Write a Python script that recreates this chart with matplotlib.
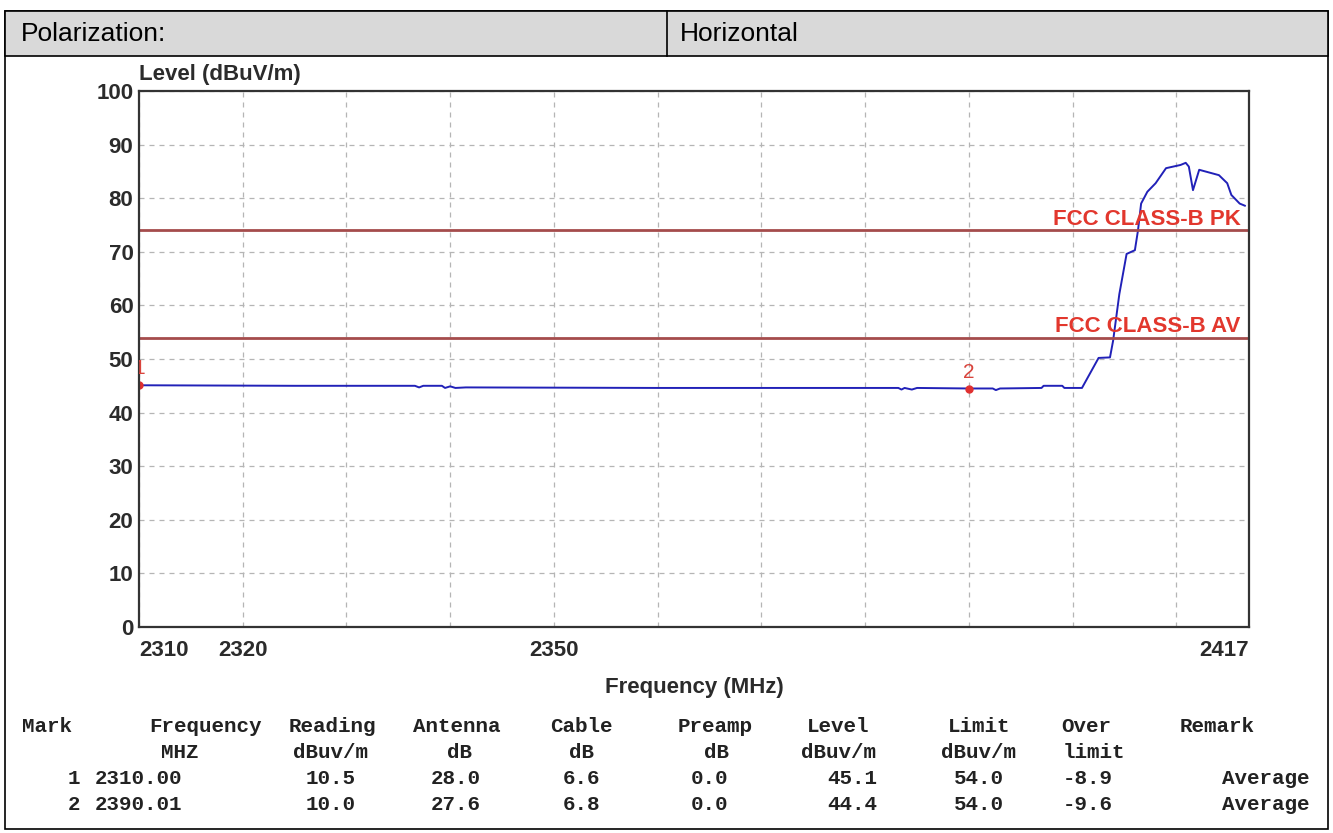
import matplotlib.pyplot as plt
from matplotlib.patches import Rectangle
from matplotlib.lines import Line2D

# trace (MHz, dBuV/m)
freq = [2310.0, 2325.0, 2336.6, 2337.0, 2337.4, 2339.2, 2339.5, 2340.0, 2340.5,
        2341.5, 2360.0, 2383.2, 2383.5, 2383.8, 2384.5, 2385.0, 2390.01, 2392.3,
        2392.6, 2393.0, 2397.0, 2397.2, 2399.0, 2399.2, 2400.9, 2402.5, 2403.6,
        2403.9, 2404.5, 2405.2, 2406.0, 2406.3, 2406.6, 2407.2, 2408.0, 2409.0,
        2410.4, 2410.9, 2411.2, 2411.6, 2412.2, 2414.1, 2414.9, 2415.3, 2416.1,
        2416.6]
level = [45.1, 45.0, 45.0, 44.7, 45.0, 45.0, 44.6, 44.9, 44.6,
         44.7, 44.6, 44.6, 44.3, 44.6, 44.3, 44.6, 44.5, 44.5,
         44.2, 44.5, 44.6, 45.0, 45.0, 44.6, 44.6, 50.2, 50.3,
         53.4, 62.1, 69.6, 70.3, 74.0, 79.0, 81.2, 82.8, 85.6,
         86.2, 86.6, 85.9, 81.5, 85.3, 84.3, 82.8, 80.6, 79.0,
         78.6]

limit_pk = 74.0
limit_av = 54.0
limit_names = ['FCC CLASS-B PK', 'FCC CLASS-B AV']

y_ticks = list(range(0, 101, 10))
x_grid = list(range(2310, 2420, 10))
x_labels = [2310, 2320, 2350, 2417]

# marker table
mark_no = ['1', '2']
mark_freq = [2310.00, 2390.01]
reading = [10.5, 10.0]
antenna = [28.0, 27.6]
cable = [6.6, 6.8]
preamp = [0.0, 0.0]
mark_level = [45.1, 44.4]
limit = [54.0, 54.0]
over = [-8.9, -9.6]
remark = ['Average', 'Average']

W, H = 1333, 833


def px(x, y):
    return x / W, 1 - y / H


fig = plt.figure(figsize=(W / 100, H / 100), dpi=100)

# frame + header row
fig.add_artist(Rectangle(px(5, 829), 1323 / W, 818 / H, transform=fig.transFigure,
                         fill=False, ec='black', lw=1.2))
fig.add_artist(Rectangle(px(5, 56), 1323 / W, 45 / H, transform=fig.transFigure,
                         fc='#d9d9d9', ec='black', lw=1.2))
fig.add_artist(Line2D([667 / W, 667 / W], [1 - 11 / H, 1 - 56 / H],
                      transform=fig.transFigure, color='black', lw=1.2))
fig.text(*px(21, 34), 'Polarization:', fontsize=19, family='Liberation Sans', va='center')
fig.text(*px(680, 34), 'Horizontal', fontsize=19, family='Liberation Sans', va='center')

# plot
l, r, t, b = 139, 1249, 91, 627
ax = fig.add_axes([l / W, 1 - b / H, (r - l) / W, (b - t) / H])
ax.plot(freq, level, color='#2121b8', lw=1.4)
ax.axhline(limit_pk, color='#a54c4c', lw=2)
ax.axhline(limit_av, color='#a54c4c', lw=2)
for y, name in zip([limit_pk, limit_av], limit_names):
    ax.text(2416.2, y + 1.0, name, ha='right', va='baseline', color='#e2372d',
            fontsize=16, fontweight='bold', family='Liberation Sans')

ax.plot(mark_freq, mark_level, 'o', color='#e03030', ms=5, clip_on=True)
for f, lv, n in zip(mark_freq, mark_level, mark_no):
    ax.text(f, lv + 1.3, n, ha='center', va='bottom', color='#d9443c',
            fontsize=15, family='Liberation Sans', clip_on=True)

ax.set_xlim(2310, 2417)
ax.set_ylim(0, 100)
ax.set_yticks(y_ticks)
ax.set_xticks(x_grid + [2417])
ax.set_xticklabels([str(v) if v in x_labels else '' for v in x_grid + [2417]])
ax.grid(True, color='#b5b5b5', ls=(0, (4, 4)), lw=0.9)
ax.tick_params(length=0, labelsize=16, labelcolor='#2b2b2b')
ax.tick_params(axis='x', pad=9)
ax.tick_params(axis='y', pad=4)
for lab in ax.get_xticklabels() + ax.get_yticklabels():
    lab.set_fontweight('bold')
    lab.set_family('Liberation Sans')
xl = ax.get_xticklabels()
xl[0].set_ha('left')
xl[-1].set_ha('right')
for sp in ax.spines.values():
    sp.set_color('#333333')
    sp.set_linewidth(1.6)

ax.text(0, 1.012, 'Level (dBuV/m)', transform=ax.transAxes, ha='left', va='bottom',
        fontsize=16, fontweight='bold', color='#2b2b2b', family='Liberation Sans')
ax.set_xlabel('Frequency (MHz)', fontsize=16, fontweight='bold', color='#2b2b2b',
              family='Liberation Sans', labelpad=12)

# marker table
mono = dict(fontsize=15, family='Liberation Mono', fontweight='bold', color='#222222',
            va='center')
head1 = ['Mark', 'Frequency', 'Reading', 'Antenna', 'Cable', 'Preamp', 'Level',
         'Limit', 'Over', 'Remark']
head1_pos = [(22, 'left'), (262, 'right'), (332, 'center'), (457, 'center'),
             (581, 'center'), (715, 'center'), (838, 'center'), (979, 'center'),
             (1086, 'center'), (1217, 'center')]
head2 = ['MHZ', 'dBuv/m', 'dB', 'dB', 'dB', 'dBuv/m', 'dBuv/m', 'limit']
head2_pos = [(180, 'center'), (330, 'center'), (459, 'center'), (582, 'center'),
             (716, 'center'), (838, 'center'), (979, 'center'), (1063, 'left')]
row_pos = [(80, 'right'), (95, 'left'), (331, 'center'), (456, 'center'),
           (582, 'center'), (709, 'center'), (877, 'right'), (979, 'center'),
           (1063, 'left'), (1310, 'right')]

for s, (x, ha) in zip(head1, head1_pos):
    fig.text(*px(x, 726), s, ha=ha, **mono)
for s, (x, ha) in zip(head2, head2_pos):
    fig.text(*px(x, 753), s, ha=ha, **mono)
for i in range(len(mark_no)):
    cells = [mark_no[i], f'{mark_freq[i]:.2f}', f'{reading[i]:.1f}', f'{antenna[i]:.1f}',
             f'{cable[i]:.1f}', f'{preamp[i]:.1f}', f'{mark_level[i]:.1f}',
             f'{limit[i]:.1f}', f'{over[i]:.1f}', remark[i]]
    y = 778 + 26 * i
    for s, (x, ha) in zip(cells, row_pos):
        fig.text(*px(x, y), s, ha=ha, **mono)

fig.savefig('out.png', dpi=100)
